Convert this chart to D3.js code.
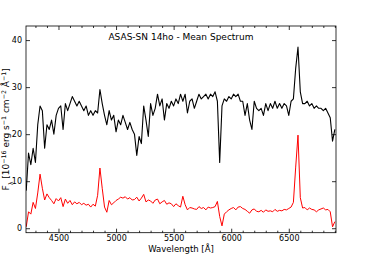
<!DOCTYPE html>
<html><head><meta charset="utf-8">
<script src="https://cdn.jsdelivr.net/npm/d3@7"></script>
<style>body{margin:0;background:#fff}svg{display:block}text{font-family:"DejaVu Sans",sans-serif}</style>
</head><body>
<script>
const wavelength = d3.range(4220, 6901, 20);
const meanSpectrumBlack = [
8,16,13.5,17,14,22,26,25,17,22,21,23,20,24,25.5,26,21,26.5,25,26.5,
28,27,26,27,26,25,26,24,25,24,25,24.5,29.5,26.5,24,22,25,23,24,20.5,
23,22,24,22.5,21,22.5,21,20,15.5,19.5,18,26,23,19.5,26.5,24,25.5,28.5,26,27.5,
23,26.5,25.5,27,26,27.5,26.5,28.5,27,28.5,24.5,27,27.5,25.5,27,28.5,27.5,28,28.5,27.5,
28.5,28,29,27,14,26,27.5,27,28,27.5,28.5,28,28.5,27,27,24,26.5,23,21,27,
25.5,25,25.5,24,26.5,25,26.5,25.5,27,25.5,26.5,25.5,26.5,26,24,27,27.5,34,38.5,29,
26.5,26.5,27,26,26.5,25.5,26,25.5,25.5,25,25.5,24.5,23.5,18.5,21];
const meanSpectrumRed = [
0.3,3.5,3,5.5,4.2,7.5,11.5,8.5,6,7.3,6.5,5.9,5.2,6.3,5.8,6.5,4.6,6.2,5.3,5.9,
5.0,5.6,5.2,5.5,5.0,5.3,4.9,5.1,4.5,5.1,4.7,7,12.8,8.5,4.5,3.4,5.9,5.0,5.4,5.9,
6.2,6.6,6.4,6.7,6.2,6.5,6.0,6.1,6.6,5.8,6.4,7.2,5.6,6.0,5.8,5.3,6.0,6.2,5.2,5.6,
5.9,5.1,5.4,5.2,4.6,5.2,4.8,4.5,6.8,5.0,3.9,4.4,4.3,4.1,4.0,4.6,4.2,4.4,3.9,4.5,
4.3,4.4,4.6,5.7,2.5,0.5,3.0,3.5,3.9,4.2,4.4,3.9,4.5,4.6,4.2,4.0,3.6,3.2,3.9,4.1,
3.6,3.5,3.8,3.4,3.9,3.6,3.7,3.5,4.0,3.6,3.8,3.7,4.0,3.9,4.2,4.5,5.5,13,19.8,6.5,
4.3,4.4,3.9,4.3,4.0,3.9,3.5,3.9,4.1,4.3,3.9,4.0,3.5,0.3,1.4];
const xTicks = [4500, 5000, 5500, 6000, 6500];
const yTicks = [0, 10, 20, 30, 40];
const title = "ASAS-SN 14ho - Mean Spectrum";
const xLabel = "Wavelength [Å]";

const W = 376, H = 259;
const m = {left: 26, top: 26, right: 40, bottom: 26.3};
const iw = W - m.left - m.right, ih = H - m.top - m.bottom;
const svg = d3.select("body").append("svg").attr("width", W).attr("height", H);
const g = svg.append("g").attr("transform", `translate(${m.left},${m.top})`);
const x = d3.scaleLinear().domain([4218, 6910]).range([0, iw]);
const y = d3.scaleLinear().domain([-0.95, 43]).range([ih, 0]);

g.append("defs").append("clipPath").attr("id", "c").append("rect").attr("width", iw).attr("height", ih);
const line = d3.line().x((d, i) => x(wavelength[i])).y(d => y(d));
const plot = g.append("g").attr("clip-path", "url(#c)");
plot.append("path").datum(meanSpectrumBlack).attr("d", line).attr("fill", "none").attr("stroke", "#000").attr("stroke-width", 1.1).attr("stroke-linejoin", "round");
plot.append("path").datum(meanSpectrumRed).attr("d", line).attr("fill", "none").attr("stroke", "#ff0000").attr("stroke-width", 1).attr("stroke-linejoin", "round");

const minorX = d3.range(4300, 6901, 100).filter(v => v % 500 !== 0);
function styleAxis(sel) {
  sel.select(".domain").remove();
  sel.selectAll("line").attr("stroke", "#000").attr("stroke-width", 0.8);
  sel.selectAll("text").attr("font-size", 8).attr("fill", "#000");
}
// bottom
g.append("g").attr("transform", `translate(0,${ih})`)
  .call(d3.axisBottom(x).tickValues(xTicks).tickSize(-4).tickPadding(3).tickFormat(d3.format("d"))).call(styleAxis);
g.append("g").attr("transform", `translate(0,${ih})`)
  .call(d3.axisBottom(x).tickValues(minorX).tickSize(-2).tickFormat("")).call(styleAxis);
// top
g.append("g").call(d3.axisTop(x).tickValues(xTicks).tickSize(-4).tickFormat("")).call(styleAxis);
g.append("g").call(d3.axisTop(x).tickValues(minorX).tickSize(-2).tickFormat("")).call(styleAxis);
// left
g.append("g").call(d3.axisLeft(y).tickValues(yTicks).tickSize(-4).tickPadding(4)).call(styleAxis);
// right
g.append("g").attr("transform", `translate(${iw},0)`)
  .call(d3.axisRight(y).tickValues(yTicks).tickSize(-4).tickFormat("")).call(styleAxis);

g.append("rect").attr("width", iw).attr("height", ih).attr("fill", "none").attr("stroke", "#000").attr("stroke-width", 0.8);

g.append("text").attr("x", iw / 2).attr("y", 14).attr("text-anchor", "middle").attr("font-size", 9).text(title);
svg.append("text").attr("x", m.left + iw / 2).attr("y", 252).attr("text-anchor", "middle").attr("font-size", 8.5).text(xLabel);

const yl = svg.append("text").attr("transform", `translate(9,${m.top + ih / 2}) rotate(-90)`)
  .attr("text-anchor", "middle").attr("font-size", 9);
const parts = [["F", 0], ["λ", -1], [" [10", 0], ["−16", 1], [" erg s", 0], ["−1", 1], [" cm", 0], ["−2", 1], [" Å", 0], ["−1", 1], ["]", 0]];
parts.forEach(([t, s]) => {
  const ts = yl.append("tspan").text(t);
  if (s === 1) ts.attr("baseline-shift", "super").attr("font-size", 6.3);
  if (s === -1) ts.attr("baseline-shift", "sub").attr("font-size", 6.3);
});
</script>
</body></html>
